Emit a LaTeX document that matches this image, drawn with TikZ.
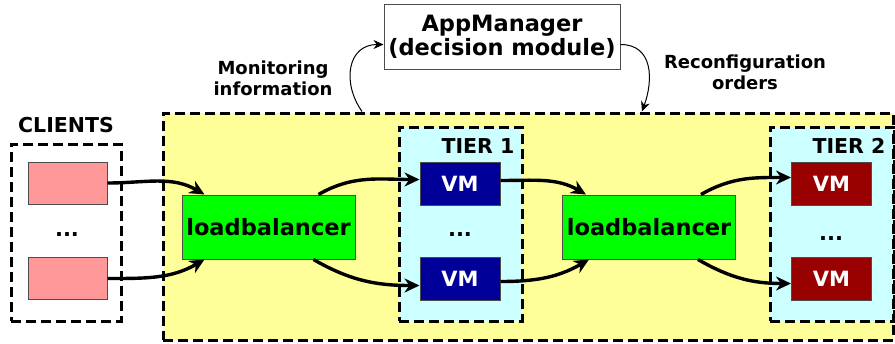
\documentclass[tikz,border=0pt]{standalone}
\usepackage{fontspec}
\setmainfont{DejaVu Sans}
\usepackage{xcolor}
\usepackage{tikz}
\usetikzlibrary{positioning}
\usetikzlibrary{arrows.meta}
\definecolor{zoneyellow}{RGB}{255,255,153}
\definecolor{tiercyan}{RGB}{204,255,255}
\definecolor{clientpink}{RGB}{255,153,153}
\definecolor{lbgreen}{RGB}{0,255,0}
\definecolor{vmblue}{RGB}{0,0,153}
\definecolor{vmred}{RGB}{153,0,0}
\tikzset{
    groupbox/.style = {draw=black, line width=3pt, dash pattern=on 10pt off 5pt, inner sep=0pt},
    clientnode/.style = {draw=black!70, line width=1pt, fill=clientpink, minimum width=79pt, minimum height=42pt, inner sep=0pt},
    lbnode/.style = {draw=black!70, line width=1pt, fill=lbgreen, minimum width=173pt, minimum height=64pt, inner sep=0pt, font=\fontsize{22.5}{24}\selectfont\bfseries},
    vmnode/.style = {draw=black!70, line width=1pt, text=white, minimum width=80pt, minimum height=43pt, inner sep=0pt, font=\fontsize{21}{23}\selectfont\bfseries},
    mgrnode/.style = {draw=black!70, line width=1pt, fill=white, minimum width=236pt, minimum height=65pt, inner sep=0pt, align=center, font=\fontsize{22.5}{24}\selectfont\bfseries},
    title/.style = {inner sep=0pt, font=\fontsize{20.5}{22}\selectfont\bfseries},
    note/.style = {inner sep=0pt, align=center, font=\fontsize{18}{21}\selectfont\bfseries},
    dots/.style = {inner sep=0pt, font=\fontsize{21}{22}\selectfont\bfseries},
    flow/.style = {-{Stealth[length=15pt,width=14pt]}, line width=3.4pt},
    ctrl/.style = {-{Stealth[length=10pt,width=9pt]}, line width=1pt},
}
\begin{document}
\begin{tikzpicture}[x=1pt, y=-1pt]
  \useasboundingbox (0,0) rectangle (895,343);
  % groups
  \node[groupbox, fill=zoneyellow, minimum width=730pt, minimum height=227pt] (zone) at (528,226.5) {};
  \node[groupbox, minimum width=110pt, minimum height=177pt] (clients) at (66,232.5) {};
  \node[groupbox, fill=tiercyan, minimum width=123pt, minimum height=194pt] (tierA) at (460.5,224) {};
  \node[groupbox, fill=tiercyan, minimum width=123pt, minimum height=194pt] (tierB) at (831.5,224) {};
  \node[title] (clientslbl) at (66,125) {CLIENTS};
  \node[title] (tierAlbl) at (478,146) {TIER 1};
  \node[title] (tierBlbl) at (849,146) {TIER 2};
  % clients
  \node[clientnode] (c1) at (67.5,183) {};
  \node[clientnode] (c2) at (67.5,278.5) {};
  \node[dots] (cdots) at (67,235) {...};
  % load balancers
  \node[lbnode] (lb1) at (268.5,227) {loadbalancer};
  \node[lbnode] (lb2) at (649,227) {loadbalancer};
  % tier 1
  \node[vmnode, fill=vmblue] (vmA1) at (460,183.5) {VM};
  \node[vmnode, fill=vmblue] (vmA2) at (460,278.5) {VM};
  \node[dots] (adots) at (460,235) {...};
  % tier 2
  \node[vmnode, fill=vmred] (vmB1) at (831.5,183.5) {VM};
  \node[vmnode, fill=vmred] (vmB2) at (831.5,278.5) {VM};
  \node[dots] (bdots) at (831,239) {...};
  % manager
  \node[mgrnode] (mgr) at (502,36.5) {AppManager\\(decision module)};
  \node[note] (monlbl) at (273,78) {Monitoring\\information};
  \node[note] (reclbl) at (745,72) {Reconfiguration\\orders};
  % flows
  \draw[flow] (c1.east) to[out=0, in=150] ([xshift=23pt]lb1.north west);
  \draw[flow] (c2.east) to[out=0, in=210] ([xshift=23pt]lb1.south west);
  \draw[flow] ([xshift=-37pt]lb1.north east) to[out=30, in=180] ([yshift=4pt]vmA1.west);
  \draw[flow] ([xshift=-42pt]lb1.south east) to[out=-30, in=180] ([yshift=-7pt]vmA2.west);
  \draw[flow] ([yshift=3pt]vmA1.east) to[out=0, in=150] ([xshift=24pt]lb2.north west);
  \draw[flow] ([yshift=-3pt]vmA2.east) to[out=0, in=210] ([xshift=27pt]lb2.south west);
  \draw[flow] ([xshift=-35pt]lb2.north east) to[out=30, in=180] ([yshift=6pt]vmB1.west);
  \draw[flow] ([xshift=-38pt]lb2.south east) to[out=-30, in=180] ([yshift=-5pt]vmB2.west);
  % control loop
  \draw[ctrl] ([xshift=-166pt]zone.north) to[out=125, in=180, looseness=1.3] ([yshift=-8pt]mgr.west);
  \draw[ctrl] ([yshift=-8pt]mgr.east) to[out=0, in=70, looseness=1.2] ([xshift=114pt]zone.north);
\end{tikzpicture}
\end{document}
